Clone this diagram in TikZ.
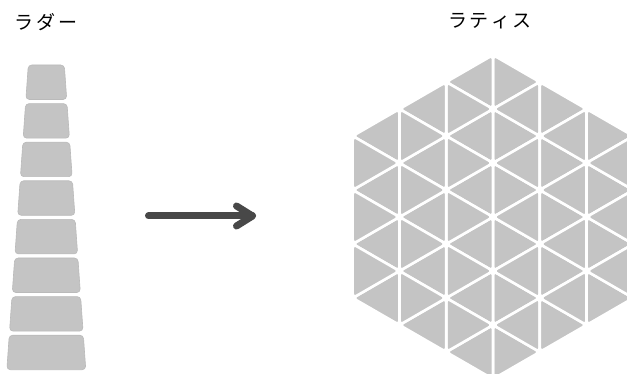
\documentclass[tikz,border=0pt]{standalone}
\usepackage{fontspec}
\newfontfamily\jpfont{Noto Sans CJK JP}
\usetikzlibrary{calc}
\definecolor{tilegray}{RGB}{196,196,196}
\definecolor{rungedge}{RGB}{186,186,186}
\definecolor{arrowgray}{RGB}{72,72,72}
\begin{document}
\begin{tikzpicture}[x=1pt,y=-1pt,
  tri/.style={fill=tilegray, draw=white, line width=2.6pt, rounded corners=4pt, line join=round},
  rung/.style={fill=tilegray, draw=rungedge, line width=0.6pt, rounded corners=3.5pt},
  arrowline/.style={draw=arrowgray, line width=7pt, line cap=round, line join=round},
  jplabel/.style={font=\jpfont\fontsize{19pt}{19pt}\selectfont, text=black, inner sep=0pt}]
\path[fill=white, use as bounding box] (0,0) rectangle (627,374);

% labels
\node[jplabel] (ladderlabel) at (46,22) {ラ\hspace{3.5pt}ダ\hspace{3.5pt}ー};
\node[jplabel] (latticelabel) at (490,21) {ラ\hspace{2.5pt}テ\hspace{2.5pt}ィ\hspace{2.5pt}ス};

% ladder rungs
\foreach \k in {0,...,7}{
  \pgfmathsetmacro\yt{65+38.6*\k}
  \pgfmathsetmacro\yb{\yt+34.5}
  \pgfmathsetmacro\wt{18+0.0705*(\yt-65)}
  \pgfmathsetmacro\wb{18+0.0705*(\yb-65)}
  \path[rung] (46.3-\wt,\yt) -- (46.3+\wt,\yt) -- (46.3+\wb,\yb) -- (46.3-\wb,\yb) -- cycle;
}

% arrow
\coordinate (arrowtail) at (148.5,216);
\coordinate (arrowtip) at (252.5,216);
\draw[arrowline] (arrowtail) -- (arrowtip);
\draw[arrowline] ($(arrowtip)+(-16,-10)$) -- (arrowtip) -- ($(arrowtip)+(-16,10)$);

% triangular lattice hexagon
\foreach \mir in {1,-1}{
\begin{scope}[shift={(493pt,-217pt)}, x=46.77pt, y=54pt, xscale=\mir]
  \foreach \a in {0,1,2}{
    \pgfmathsetmacro\ha{3-\a/2}
    \pgfmathsetmacro\hb{3-(\a+1)/2}
    \pgfmathtruncatemacro\nr{5-\a}
    \pgfmathtruncatemacro\nl{4-\a}
    \foreach \k in {0,...,\nr}{
      \pgfmathsetmacro\yy{-\ha+\k}
      \path[tri] (\a,\yy) -- (\a,\yy+1) -- (\a+1,\yy+0.5) -- cycle;
    }
    \foreach \k in {0,...,\nl}{
      \pgfmathsetmacro\yy{-\hb+\k}
      \path[tri] (\a+1,\yy) -- (\a+1,\yy+1) -- (\a,\yy+0.5) -- cycle;
    }
  }
\end{scope}
}
\end{tikzpicture}
\end{document}
